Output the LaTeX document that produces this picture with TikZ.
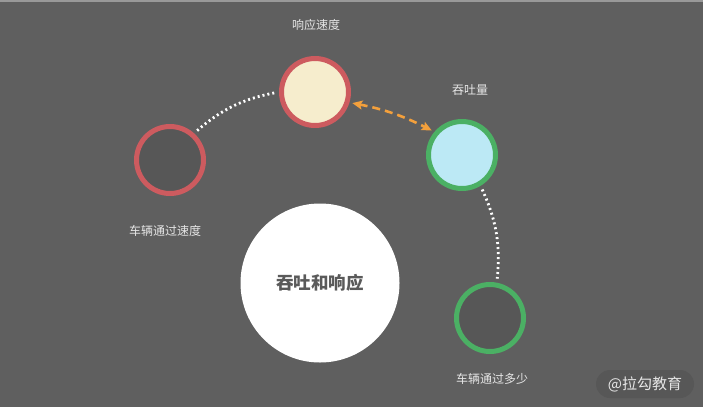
\documentclass[tikz,border=0pt]{standalone}
\usepackage{fontspec}
\setmainfont{Noto Sans CJK SC}
\usepackage{tikz}
\usetikzlibrary{arrows.meta,positioning,calc}
\definecolor{bggray}{HTML}{5F5F5F}
\definecolor{holegray}{HTML}{575757}
\definecolor{ringred}{HTML}{CD5B5F}
\definecolor{ringgreen}{HTML}{4BB064}
\definecolor{cream}{HTML}{F6EDCD}
\definecolor{skyblue}{HTML}{BCE9F5}
\definecolor{dashorange}{HTML}{F3A03C}
\definecolor{labgray}{HTML}{E6E6E6}
\definecolor{midgray}{HTML}{5A5A5A}
\newcommand{\lab}[1]{{\fontsize{12}{14}\selectfont #1}}

\begin{document}
\begin{tikzpicture}[x=1pt,y=-1pt,semithick,
  ring/.style={circle,draw,line width=5pt,inner sep=0pt,minimum size=67pt},
  dotline/.style={draw=white,line width=2.8pt,dash pattern=on 2pt off 3pt,shorten >=4pt,shorten <=4pt},
  otip/.tip={Stealth[length=10pt,width=9pt,inset=2pt]},
  every label/.style={text=labgray}]

  \fill[bggray] (0,0) rectangle (703,407);
  \fill[gray!80] (0,0) rectangle (703,1.5);
  \useasboundingbox (0,0) rectangle (703,407);

  \node[ring,draw=ringred,fill=holegray] (spd) at (170,160) {};
  \node[ring,draw=ringred,fill=cream] (resp) at (315,92) {};
  \node[ring,draw=ringgreen,fill=skyblue] (thru) at (462,155) {};
  \node[ring,draw=ringgreen,fill=holegray] (cnt) at (490,318) {};
  \node[circle,fill=white,inner sep=0pt,minimum size=159pt] (core) at (320,283)
    {\fontsize{17.5}{20}\selectfont\bfseries\color{midgray}吞吐和响应};

  \node[text=labgray] (lresp) at (316,25) {\lab{响应速度}};
  \node[text=labgray] (lthru) at (470,90) {\lab{吞吐量}};
  \node[text=labgray] (lspd) at (165,231) {\lab{车辆通过速度}};
  \node[text=labgray] (lcnt) at (492,379) {\lab{车辆通过多少}};

  \node[fill=holegray,rounded corners=14pt,minimum width=98pt,minimum height=28pt,
    text=labgray] (mark) at (645,384) {\fontsize{15}{17}\selectfont @拉勾教育};

  \draw[dotline] (spd.48) to[bend left=15] (resp.180);
  \draw[dotline] (thru.-59) to[bend left=15] (cnt.79);
  \draw[draw=dashorange,line width=2.6pt,dash pattern=on 8pt off 5pt,
    otip-otip,shorten >=3pt,shorten <=3pt] (resp.-17) to[bend left=8] (thru.140);

\end{tikzpicture}
\end{document}
